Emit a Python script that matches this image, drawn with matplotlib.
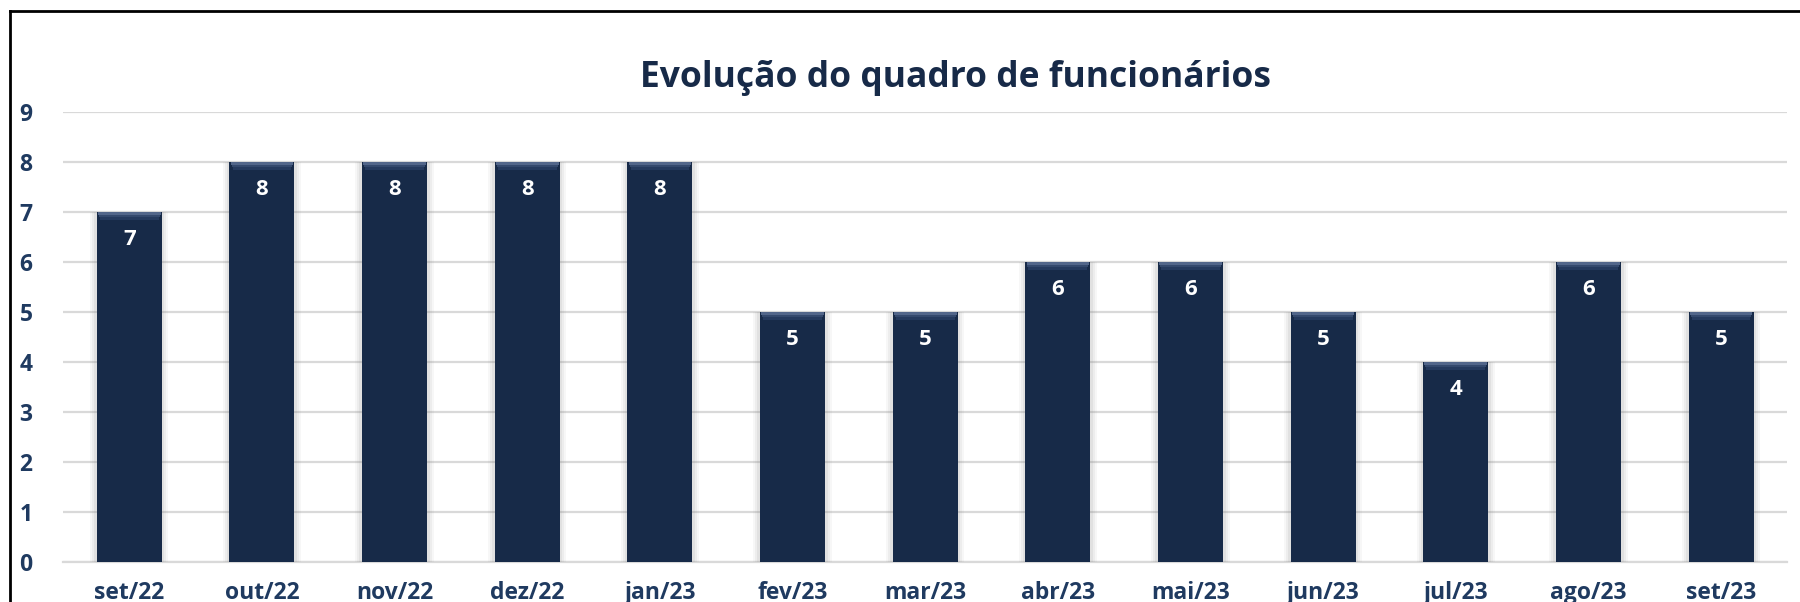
import matplotlib
matplotlib.use("Agg")
import matplotlib.pyplot as plt
import numpy as np
from matplotlib.lines import Line2D

# data
meses = ["set/22", "out/22", "nov/22", "dez/22", "jan/23", "fev/23", "mar/23",
         "abr/23", "mai/23", "jun/23", "jul/23", "ago/23", "set/23"]
funcionarios = [7, 8, 8, 8, 8, 5, 5, 6, 6, 5, 4, 6, 5]
yticks = list(range(0, 10))

plt.rcParams['font.family'] = ['Open Sans', 'DejaVu Sans']

navy = "#172A48"
tick_col = "#1F3A60"

fig = plt.figure(figsize=(18, 6.02), dpi=100)
ax = fig.add_axes([0.035, 0.0664, 0.958, 0.748])

x = np.arange(len(meses))
w = 0.49

# soft shadow around the bars
for extra, a in [(0.10, 0.06), (0.07, 0.08), (0.04, 0.10)]:
    ax.bar(x, funcionarios, width=w + extra, color="#808080", alpha=a, zorder=2)

ax.bar(x, funcionarios, width=w, color=navy, zorder=3)

# bevel at the top of each bar
vals = np.array(funcionarios, dtype=float)
for h, c in [(0.16, "#253A5E"), (0.11, "#34496D"), (0.06, "#52668A")]:
    ax.bar(x, h, bottom=vals - h, width=w * (1 - h * 0.6), color=c, zorder=4)

for xi, v in zip(x, funcionarios):
    ax.text(xi, v - 0.55, str(v), ha="center", va="center", color="white",
            fontsize=16, fontweight="bold", zorder=5)

ax.set_xlim(-0.5, len(meses) - 0.5)
ax.set_ylim(0, 9)
ax.set_yticks(yticks)
ax.set_yticklabels([str(t) for t in yticks])
ax.set_xticks(x)
ax.set_xticklabels(meses)
ax.yaxis.grid(True, color="#D9D9D9", linewidth=1.6, zorder=0)
ax.set_axisbelow(True)
for s in ax.spines.values():
    s.set_visible(False)
ax.tick_params(axis="both", length=0, labelsize=16.5, labelcolor=tick_col)
ax.tick_params(axis="y", pad=22)
ax.tick_params(axis="x", pad=14)
for lab in ax.get_xticklabels() + ax.get_yticklabels():
    lab.set_fontweight("bold")
ax.axhline(0, color="#D9D9D9", linewidth=1.6, zorder=1, clip_on=False)

fig.text(0.531, 0.870, "Evolução do quadro de funcionários", ha="center", va="center",
         fontsize=25.5, fontweight="bold", color=navy)

# outer frame (top and left visible)
fig.add_artist(Line2D([0.0055, 1.0], [0.982, 0.982], color="black", linewidth=2))
fig.add_artist(Line2D([0.0055, 0.0055], [0.0, 0.982], color="black", linewidth=2))

fig.savefig("out.png", dpi=100, facecolor="white")
